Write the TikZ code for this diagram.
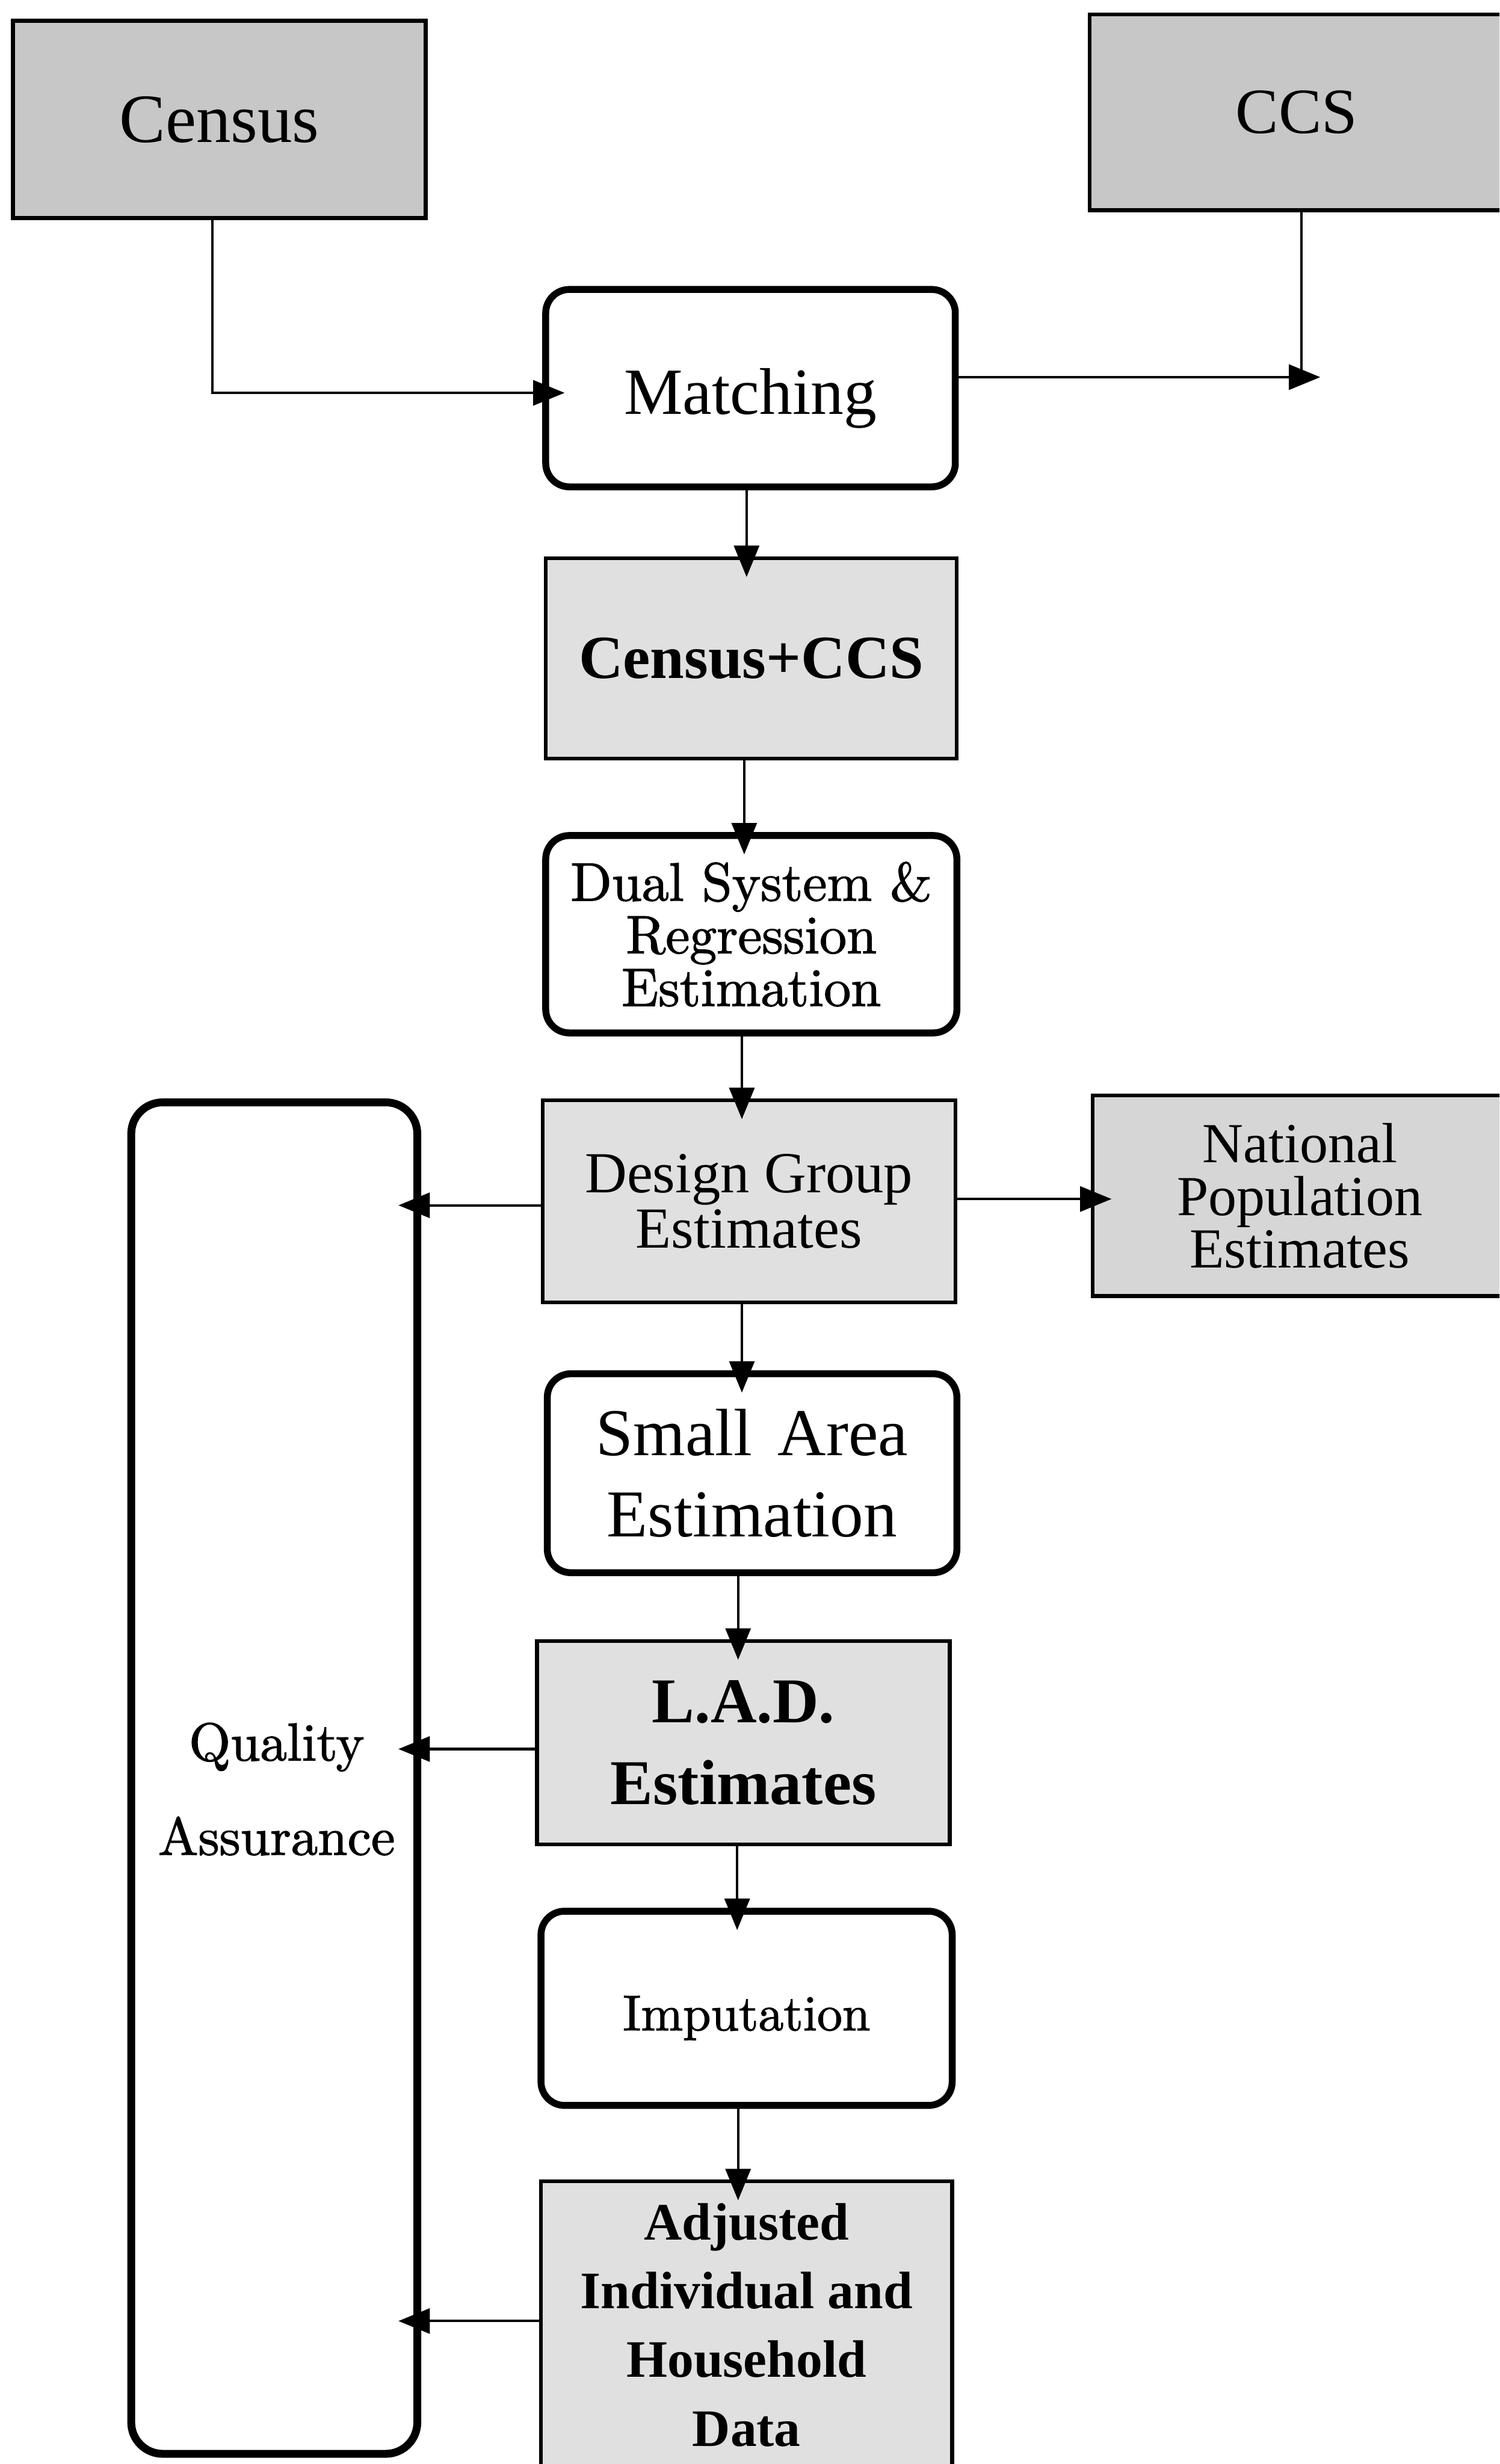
\documentclass[tikz,border=0pt]{standalone}
\usepackage{fontspec}
\newfontfamily\tms{Liberation Serif}
\newfontfamily\lmheavy{lmroman10-regular.otf}[FakeBold=1.5]
\usetikzlibrary{arrows.meta,calc}

\begin{document}
\begin{tikzpicture}[x=0.5pt,y=-0.5pt,
  every node/.style={inner sep=0pt, outer sep=0pt, align=center, text=black},
  databox/.style={draw=black, line width=1.2pt, fill=black!12, rectangle},
  darkbox/.style={databox, fill=black!22},
  procbox/.style={draw=black, line width=2.2pt, rounded corners=7.5pt, fill=white},
  conn/.style={draw=black, line width=0.8pt, -{Triangle[length=10pt,width=8pt]}, shorten >=-6pt},
  plain/.style={draw=black, line width=0.8pt},
]
% page frame
\fill[white] (0,0) rectangle (954,1568);
\useasboundingbox (0,0) rectangle (954,1568);
\clip (0,0) rectangle (954,1568);

% data sources
\node[darkbox, minimum width=131.3pt, minimum height=62.8pt,
      font=\tms\fontsize{22pt}{22pt}\selectfont] (census) at (139.5,76) {Census};
\node[darkbox, minimum width=131.8pt, minimum height=62.3pt,
      font=\tms\fontsize{20.5pt}{20.5pt}\selectfont] (ccs) at (825,71.5) {CCS};

% main processing column
\node[procbox, minimum width=130.3pt, minimum height=62.8pt,
      text height=16.6pt, text depth=0pt,
      font=\tms\fontsize{21pt}{21pt}\selectfont] (matching) at (477.5,247) {Matching};
\node[databox, minimum width=130.8pt, minimum height=63.8pt,
      font=\tms\bfseries\fontsize{19.5pt}{19.5pt}\selectfont] (censusccs) at (478,419) {Census+CCS};
\node[procbox, minimum width=130.8pt, minimum height=62.8pt,
      font=\lmheavy\fontsize{17.2pt}{16.75pt}\selectfont] (dual) at (478,594.5)
      {Dual System \&\\Regression\\Estimation};
\node[databox, minimum width=131.3pt, minimum height=64.3pt,
      font=\tms\fontsize{18.5pt}{17.5pt}\selectfont] (design) at (476.5,764.5)
      {Design Group\\Estimates};
\node[databox, fill=black!16, minimum width=131.8pt, minimum height=63.8pt,
      font=\tms\fontsize{18pt}{16.75pt}\selectfont] (national) at (827,761)
      {National\\Population\\Estimates};
\node[procbox, minimum width=130.3pt, minimum height=63.3pt,
      font=\tms\fontsize{21.3pt}{26pt}\selectfont] (smallarea) at (478.5,937.5)
      {Small\hspace{0.38em}Area\\Estimation};
\node[databox, minimum width=131.3pt, minimum height=64.8pt,
      font=\tms\bfseries\fontsize{20.3pt}{26pt}\selectfont] (lad) at (473,1109)
      {L.A.D.\\Estimates};
\node[procbox, minimum width=130.8pt, minimum height=61.8pt,
      text height=14pt, text depth=0pt,
      font=\lmheavy\fontsize{16pt}{16pt}\selectfont] (imputation) at (475,1278) {Imputation};
\node[databox, minimum width=130.8pt, minimum height=91.3pt,
      font=\tms\bfseries\fontsize{16.75pt}{21.85pt}\selectfont] (adjusted) at (475,1479.5)
      {Adjusted\\Individual and\\Household\\Data};

% quality assurance column
\node[procbox, line width=2.5pt, rounded corners=10pt, minimum width=91pt, minimum height=430pt,
      label={[name=qalabel, align=center, yshift=-3.5pt, xshift=0.75pt,
              font=\lmheavy\fontsize{17pt}{30pt}\selectfont]center:{Quality\\Assurance}}]
      (qa) at (174.5,1131.5) {};

% connectors
\coordinate (ccsjoin) at (840,240);
\coordinate (ccsdrop) at (828,240);
\draw[conn] ([xshift=-2.25pt]census.south) |- ([yshift=-1.5pt]matching.west);
\draw[conn, shorten >=0pt] ([yshift=3.5pt]matching.east) -- (ccsjoin);
\draw[plain] (ccs.south -| ccsdrop) -- (ccsdrop);

\draw[conn] ([xshift=-1.25pt]matching.south) -- ([xshift=-1.5pt]censusccs.north);
\draw[conn] ([xshift=-2.25pt]censusccs.south) -- ([xshift=-2.25pt]dual.north);
\draw[conn] ([xshift=-3pt]dual.south) -- ([xshift=-2.25pt]design.north);
\draw[conn] ([xshift=-2.25pt]design.south) -- ([xshift=-3.25pt]smallarea.north);
\draw[conn] ([xshift=-4.45pt]smallarea.south) -- ([xshift=-1.7pt]lad.north);
\draw[conn] ([xshift=-2pt]lad.south) -- ([xshift=-3pt]imputation.north);
\draw[conn] ([xshift=-2.7pt]imputation.south) -- ([xshift=-2.7pt]adjusted.north);

\draw[conn] ([yshift=0.75pt]design.east) -- ([yshift=-1pt]national.west);
\draw[conn] ([yshift=-1.25pt]design.west) -- ($(qa.east |- design.west)+(0,-1.25pt)$);
\draw[conn] ([yshift=-2pt]lad.west) -- ($(qa.east |- lad.west)+(0,-2pt)$);
\draw[conn] ([yshift=1.25pt]adjusted.west) -- ($(qa.east |- adjusted.west)+(0,1.25pt)$);
\end{tikzpicture}
\end{document}
